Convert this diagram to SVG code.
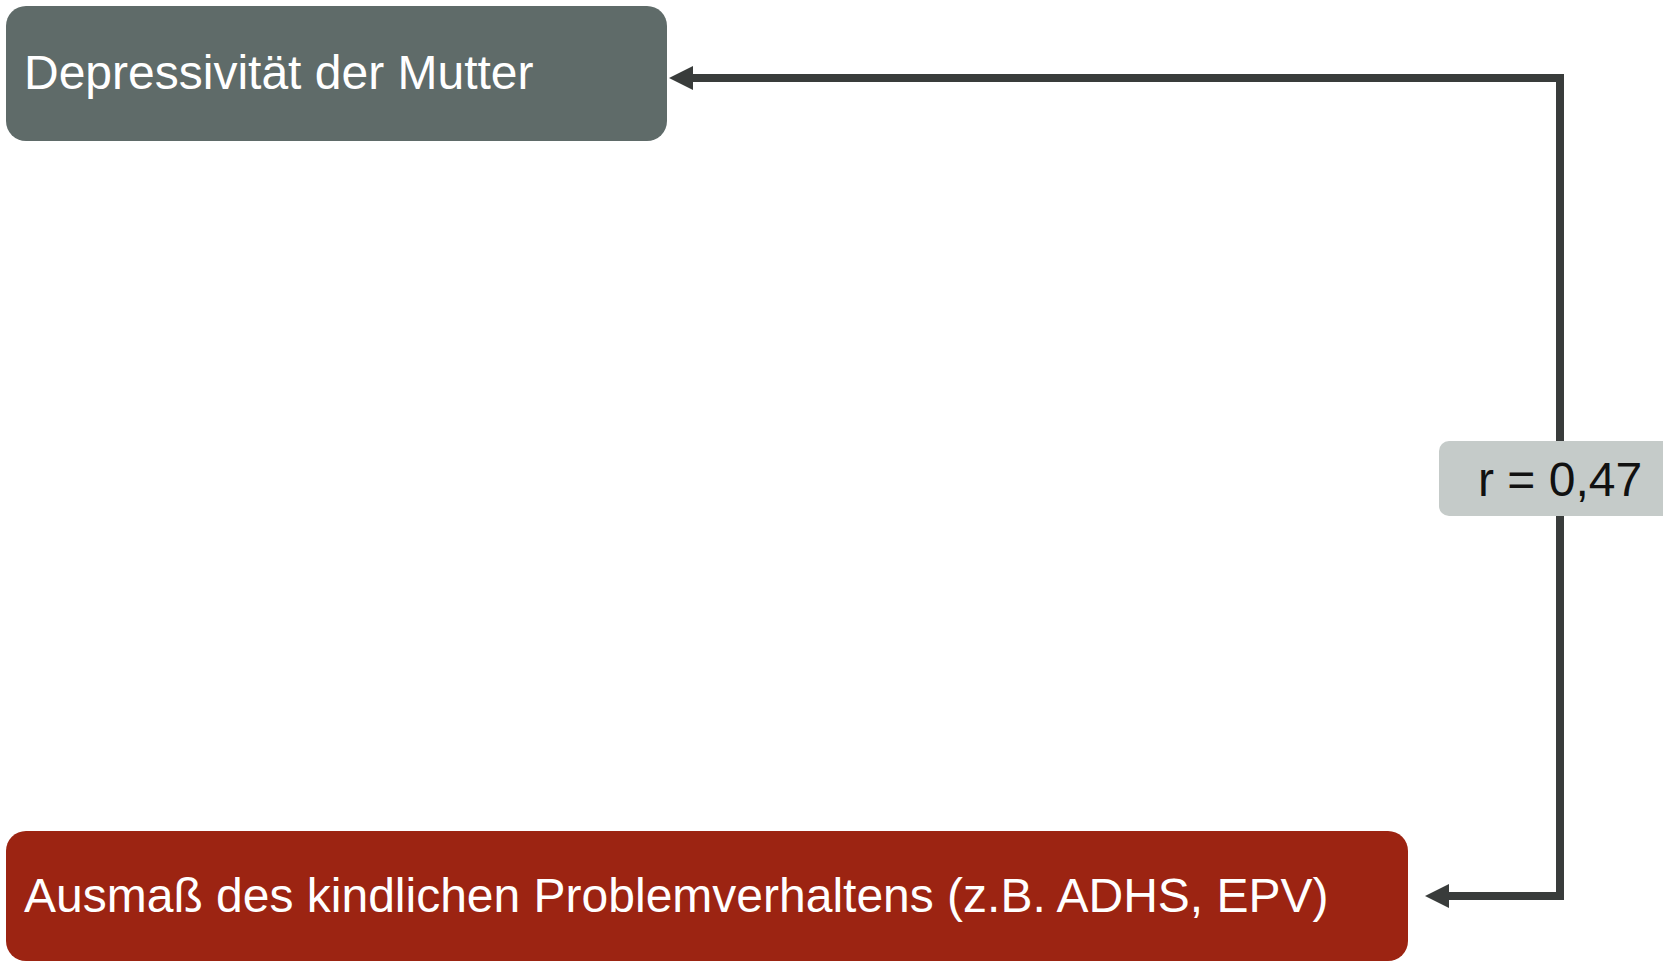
<svg xmlns="http://www.w3.org/2000/svg" width="1663" height="962" viewBox="0 0 1663 962">
<defs>
<style>
.lbl{font-family:"Liberation Sans",Arial,sans-serif;font-size:48px;fill:#ffffff}
.conn{fill:none;stroke:#393c3b;stroke-width:8}
.head{fill:#393c3b}
</style>
</defs>
<rect width="1663" height="962" fill="#ffffff"/>
<g id="connectors">
<path class="conn" d="M691,78 H1560 V896 H1447"/>
<path class="head" d="M669,78 L693,66 L693,90 Z"/>
<path class="head" d="M1425,896 L1449,884 L1449,908 Z"/>
</g>
<g id="node-mutter">
<rect x="6" y="6" width="661" height="135" rx="20" fill="#5f6b69"/>
<text class="lbl" x="24" y="89">Depressivität der Mutter</text>
</g>
<g id="node-kind">
<rect x="6" y="831" width="1402" height="130" rx="20" fill="#9c2412"/>
<text class="lbl" x="24" y="912">Ausmaß des kindlichen Problemverhaltens (z.B. ADHS, EPV)</text>
</g>
<g id="label-r">
<rect x="1439" y="441" width="244" height="75" rx="10" fill="#c5cbc9"/>
<text x="1478" y="496" font-family="Liberation Sans, Arial, sans-serif" font-size="48" fill="#111111">r = 0,47</text>
</g>
</svg>
